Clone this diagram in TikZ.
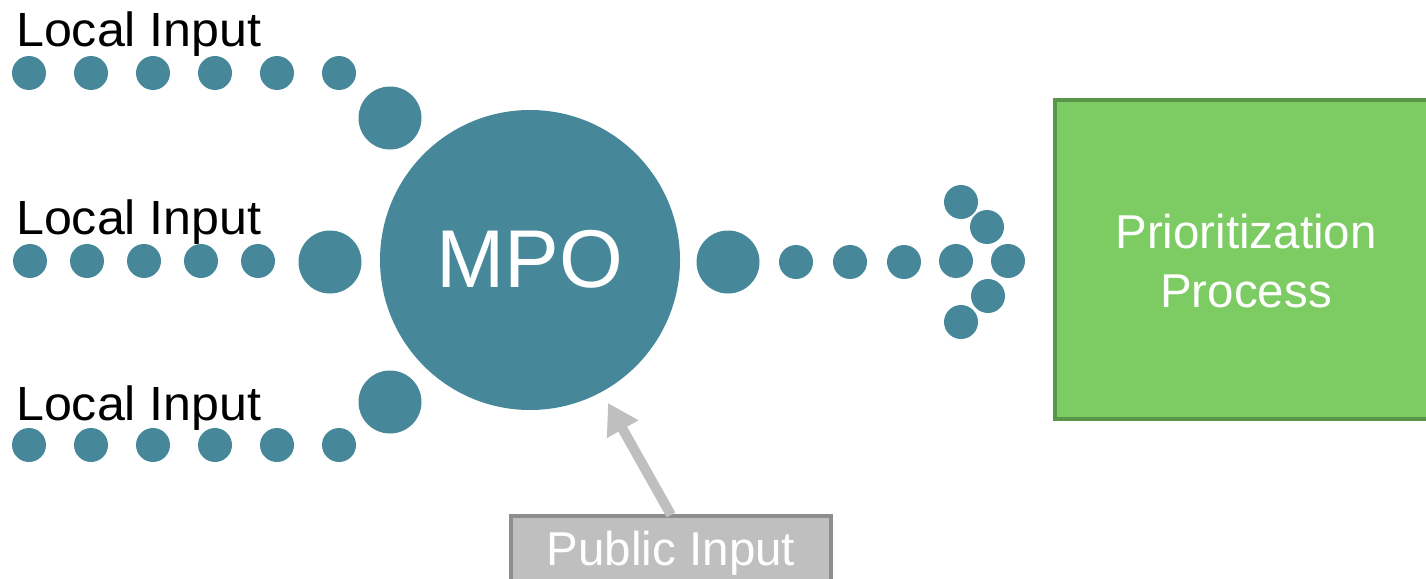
\documentclass[tikz,border=0pt]{standalone}
\usepackage{fontspec}
\setmainfont{Liberation Sans}
\usetikzlibrary{arrows.meta}
\definecolor{teal1}{HTML}{46889A}
\definecolor{gfill}{HTML}{7CCB63}
\definecolor{gline}{HTML}{5A9649}
\definecolor{pfill}{HTML}{BFBFBF}
\definecolor{pline}{HTML}{8E8E8E}
\tikzset{
  sdot/.style={circle,fill=teal1,inner sep=0pt,minimum size=34pt},
  bdot/.style={circle,fill=teal1,inner sep=0pt,minimum size=63pt},
  lbl/.style={anchor=base west,inner sep=0pt,font=\fontsize{48}{56}\selectfont,text=black,xscale=1.045},
  wtxt/.style={anchor=base,inner sep=0pt,text=white,font=\fontsize{47.5}{56}\selectfont},
}
\begin{document}
\begin{tikzpicture}[x=1pt,y=-1pt]
\useasboundingbox (0,0) rectangle (1426,578);
\fill[white] (0,0) rectangle (1426,578);
% labels
\node[lbl] (l1) at (16,47) {Local Input};
\node[lbl] (l2) at (16,234) {Local Input};
\node[lbl] (l3) at (16,420) {Local Input};
% top row
\foreach \x [count=\i] in {29,91,153,215,277,339} \node[sdot] (t\i) at (\x,73) {};
\node[bdot] (tb) at (390,118) {};
% middle row
\foreach \x [count=\i] in {30,87,144,201,258} \node[sdot] (m\i) at (\x,261) {};
\node[bdot] (mb) at (330,262) {};
% bottom row
\foreach \x [count=\i] in {29,91,153,215,277,339} \node[sdot] (b\i) at (\x,445) {};
\node[bdot] (bb) at (390,402) {};
% MPO
\node[circle,fill=teal1,inner sep=0pt,minimum size=300pt] (mpo) at (530,260) {};
\node[anchor=base,inner sep=0pt,text=white,font=\fontsize{82}{90}\selectfont] (mpot) at (530,287) {MPO};
% output dots
\node[bdot] (ob) at (728,262) {};
\foreach \x [count=\i] in {796,850,904} \node[sdot] (o\i) at (\x,262) {};
\node[sdot] (c1) at (961,202) {};
\node[sdot] (c2) at (987,227) {};
\node[sdot] (c3) at (956,261) {};
\node[sdot] (c4) at (1008,261) {};
\node[sdot] (c5) at (988,296) {};
\node[sdot] (c6) at (961,322) {};
% green box
\draw[draw=gline,fill=gfill,line width=4pt] (1055,100) rectangle (1460,419);
\node[wtxt] (pp1) at (1246,248) {Prioritization};
\node[wtxt] (pp2) at (1246,307) {Process};
% public input
\node[draw=pline,fill=pfill,line width=3.5pt,minimum width=320pt,minimum height=90pt,inner sep=0pt] (pub) at (671,561) {};
\node[wtxt] (pubt) at (671,565) {Public Input};
\coordinate (as) at (671,515);
\coordinate (ae) at (608,403);
\draw[pfill,line width=10pt,-{Triangle[width=34pt,length=30pt]}] (as) -- (ae);
\end{tikzpicture}
\end{document}
